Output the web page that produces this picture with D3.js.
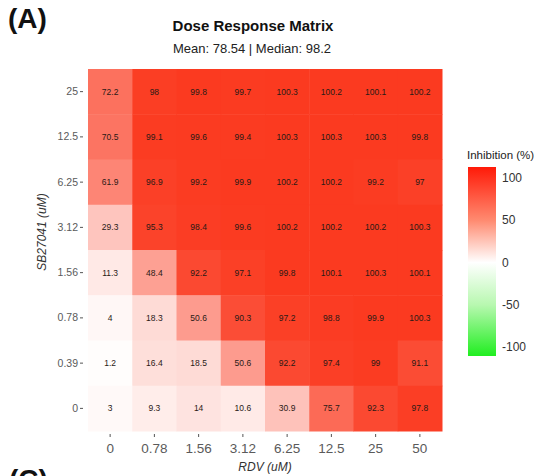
<!DOCTYPE html>
<html>
<head>
<meta charset="utf-8">
<script src="https://cdn.jsdelivr.net/npm/d3@7"></script>
<style>
  body { margin: 0; background: #fff; }
  text { font-family: "Liberation Sans", Arial, sans-serif; }
</style>
</head>
<body>
<div id="chart"></div>
<script>
// Data
var rdvDoses = ["0", "0.78", "1.56", "3.12", "6.25", "12.5", "25", "50"];
var sbDoses  = ["25", "12.5", "6.25", "3.12", "1.56", "0.78", "0.39", "0"];

// rows follow sbDoses order (top to bottom)
var inhibition = [
  [72.2, 98,   99.8, 99.7, 100.3, 100.2, 100.1, 100.2],
  [70.5, 99.1, 99.6, 99.4, 100.3, 100.3, 100.3, 99.8],
  [61.9, 96.9, 99.2, 99.9, 100.2, 100.2, 99.2,  97],
  [29.3, 95.3, 98.4, 99.6, 100.2, 100.2, 100.2, 100.3],
  [11.3, 48.4, 92.2, 97.1, 99.8,  100.1, 100.3, 100.1],
  [4,    18.3, 50.6, 90.3, 97.2,  98.8,  99.9,  100.3],
  [1.2,  16.4, 18.5, 50.6, 92.2,  97.4,  99,    91.1],
  [3,    9.3,  14,   10.6, 30.9,  75.7,  92.3,  97.8]
];

var legendTicks = [100, 50, 0, -50, -100];

// Canvas
var W = 546, H = 476;
var plot = { left: 88, top: 69, right: 442, bottom: 431 };

var svg = d3.select("#chart")
  .append("svg")
    .attr("width", W)
    .attr("height", H);

// Scales
var x = d3.scaleBand()
  .domain(rdvDoses)
  .range([plot.left, plot.right]);

var y = d3.scaleBand()
  .domain(sbDoses)
  .range([plot.top, plot.bottom]);

var color = d3.scaleLinear()
  .domain([-100, 0, 100])
  .range(["#22ee22", "#ffffff", "#fb3a20"])
  .clamp(true);

// Flatten into cells
var cells = [];
sbDoses.forEach(function(sb, i) {
  rdvDoses.forEach(function(rdv, j) {
    cells.push({ sb: sb, rdv: rdv, v: inhibition[i][j] });
  });
});

// Tiles
svg.append("g")
  .selectAll("rect")
  .data(cells)
  .enter()
    .append("rect")
      .attr("x", function(d) { return x(d.rdv); })
      .attr("y", function(d) { return y(d.sb); })
      .attr("width", x.bandwidth() + 0.5)
      .attr("height", y.bandwidth() + 0.5)
      .attr("fill", function(d) { return color(d.v); });

svg.append("g")
  .selectAll("text")
  .data(cells)
  .enter()
    .append("text")
      .attr("x", function(d) { return x(d.rdv) + x.bandwidth() / 2; })
      .attr("y", function(d) { return y(d.sb) + y.bandwidth() / 2; })
      .attr("dy", "0.35em")
      .attr("text-anchor", "middle")
      .attr("font-size", "8.5px")
      .attr("fill", "#2a1a16")
      .text(function(d) { return d.v; });

// Axes
var xAxis = svg.append("g")
  .attr("transform", "translate(0," + (plot.bottom + 3) + ")")
  .call(d3.axisBottom(x).tickSize(3).tickPadding(6));

var yAxis = svg.append("g")
  .attr("transform", "translate(" + (plot.left - 5) + ",0)")
  .call(d3.axisLeft(y).tickSize(3).tickPadding(2));

[xAxis, yAxis].forEach(function(a) {
  a.select(".domain").remove();
  a.selectAll("line").attr("stroke", "#555");
  a.selectAll("text")
    .attr("fill", "#5a5a5a")
    .style("font-family", "'Liberation Sans', Arial, sans-serif");
});
xAxis.selectAll("text").attr("font-size", "13.5px");
yAxis.selectAll("text").attr("font-size", "10.5px");

// Axis labels
svg.append("text")
  .attr("x", (plot.left + plot.right) / 2)
  .attr("y", 471)
  .attr("text-anchor", "middle")
  .attr("font-size", "12px")
  .attr("font-style", "italic")
  .attr("fill", "#333")
  .text("RDV (uM)");

svg.append("text")
  .attr("transform", "rotate(-90)")
  .attr("x", -232)
  .attr("y", 46)
  .attr("text-anchor", "middle")
  .attr("font-size", "12px")
  .attr("font-style", "italic")
  .attr("fill", "#333")
  .text("SB27041 (uM)");

// Titles
svg.append("text")
  .attr("x", 253)
  .attr("y", 31)
  .attr("text-anchor", "middle")
  .attr("font-size", "15px")
  .attr("font-weight", "bold")
  .attr("fill", "#111")
  .text("Dose Response Matrix");

svg.append("text")
  .attr("x", 252)
  .attr("y", 53)
  .attr("text-anchor", "middle")
  .attr("font-size", "13px")
  .attr("fill", "#222")
  .text("Mean: 78.54 | Median: 98.2");

svg.append("text")
  .attr("x", 8)
  .attr("y", 28)
  .attr("font-size", "28px")
  .attr("font-weight", "bold")
  .attr("fill", "#111")
  .text("(A)");

// next panel label, cut by the bottom edge as in the source figure
svg.append("text")
  .attr("x", 9)
  .attr("y", 489)
  .attr("font-size", "28px")
  .attr("font-weight", "bold")
  .attr("fill", "#111")
  .text("(C)");

// Legend
var lg = { x: 468, top: 167, bottom: 356, w: 28 };
var legendY = d3.scaleLinear()
  .domain([100, -100])
  .range([178, 347]);

var grad = svg.append("defs")
  .append("linearGradient")
    .attr("id", "legendGrad")
    .attr("x1", 0).attr("y1", 0)
    .attr("x2", 0).attr("y2", 1);

var gStops = [
  { v: 113, c: "#ff1a08" },
  { v: 50,  c: "#ff8a70" },
  { v: 0,   c: "#ffffff" },
  { v: -50, c: "#b8f8b0" },
  { v: -110, c: "#22ee22" }
];
grad.selectAll("stop")
  .data(gStops)
  .enter()
    .append("stop")
      .attr("offset", function(d) {
        return ((legendY(d.v) - lg.top) / (lg.bottom - lg.top) * 100) + "%";
      })
      .attr("stop-color", function(d) { return d.c; });

svg.append("rect")
  .attr("x", lg.x)
  .attr("y", lg.top)
  .attr("width", lg.w)
  .attr("height", lg.bottom - lg.top)
  .attr("fill", "url(#legendGrad)");

svg.append("text")
  .attr("x", 467)
  .attr("y", 159)
  .attr("font-size", "11.5px")
  .attr("fill", "#222")
  .text("Inhibition (%)");

svg.append("g")
  .selectAll("text")
  .data(legendTicks)
  .enter()
    .append("text")
      .attr("x", 502)
      .attr("y", function(d) { return legendY(d); })
      .attr("dy", "0.35em")
      .attr("font-size", "12px")
      .attr("fill", "#333")
      .text(function(d) { return d; });
</script>
</body>
</html>
